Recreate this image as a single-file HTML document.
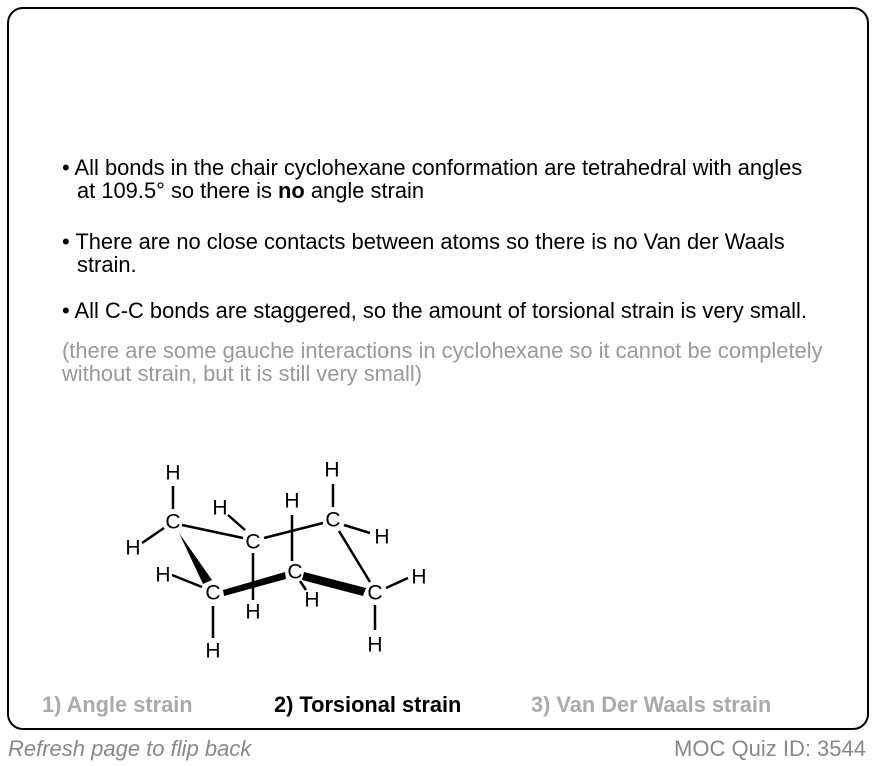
<!DOCTYPE html>
<html><head><style>
body{margin:0;width:878px;height:766px;background:#fff;font-family:"Liberation Sans",Arial,sans-serif;position:relative;overflow:hidden}
.card{position:absolute;left:7px;top:7px;width:862px;height:723px;border:2px solid #000;border-radius:16px;box-sizing:border-box}
.t{position:absolute;font-size:21.9px;color:#000;white-space:nowrap;line-height:23px}
.g{color:#999}
.b{position:absolute;font-size:21.8px;font-weight:bold;white-space:nowrap}
.f{position:absolute;font-size:22px;color:#888;white-space:nowrap}
</style></head><body>
<div class="card"></div>
<div class="t" style="left:62px;top:156px">• All bonds in the chair cyclohexane conformation are tetrahedral with angles</div>
<div class="t" style="left:77px;top:179px">at 109.5° so there is <b>no</b> angle strain</div>
<div class="t" style="left:62px;top:230px">• There are no close contacts between atoms so there is no Van der Waals</div>
<div class="t" style="left:77px;top:253px">strain.</div>
<div class="t" style="left:62px;top:299px">• All C-C bonds are staggered, so the amount of torsional strain is very small.</div>
<div class="t g" style="left:62px;top:339px">(there are some gauche interactions in cyclohexane so it cannot be completely</div>
<div class="t g" style="left:62px;top:362px">without strain, but it is still very small)</div>
<svg style="position:absolute;left:0;top:0" width="878" height="766">
<g stroke="#000" stroke-width="2.5" fill="none">
<line x1="182" y1="525" x2="243" y2="538"/>
<line x1="264" y1="538" x2="323" y2="523"/>
<line x1="339" y1="531" x2="370" y2="582"/>
<line x1="173" y1="486" x2="173" y2="509"/>
<line x1="164" y1="528" x2="142" y2="543"/>
<line x1="228" y1="515" x2="245" y2="530"/>
<line x1="253" y1="553" x2="253" y2="600"/>
<line x1="292" y1="515" x2="292" y2="561"/>
<line x1="300" y1="581" x2="306" y2="590"/>
<line x1="333" y1="484" x2="333" y2="507"/>
<line x1="344" y1="525" x2="370" y2="533"/>
<line x1="386" y1="588" x2="408" y2="578"/>
<line x1="375" y1="605" x2="375" y2="630"/>
<line x1="172" y1="575" x2="202" y2="587"/>
<line x1="213" y1="606" x2="213" y2="638"/>
</g>
<polygon points="179,533 203,584 212,580" fill="#000"/>
<polygon points="223,590 285,572 286,579 224,596" fill="#000"/>
<polygon points="304,572 366,588 363,596 302,580" fill="#000"/>
<g font-size="21" font-family="Liberation Sans,Arial,sans-serif" text-anchor="middle" dominant-baseline="central">
<text x="173" y="522">C</text><text x="253" y="542">C</text><text x="295" y="572">C</text>
<text x="333" y="520">C</text><text x="375" y="593">C</text><text x="213" y="593">C</text>
<text x="173" y="473">H</text><text x="133" y="548">H</text><text x="220" y="508">H</text>
<text x="253" y="612">H</text><text x="292" y="501">H</text><text x="312" y="600">H</text>
<text x="332" y="470">H</text><text x="382" y="537">H</text><text x="419" y="577">H</text>
<text x="375" y="645">H</text><text x="163" y="575">H</text><text x="213" y="651">H</text>
</g>
</svg>
<div class="b" style="left:42px;top:692px;color:#aaa">1) Angle strain</div>
<div class="b" style="left:274px;top:692px;color:#000">2) Torsional strain</div>
<div class="b" style="left:531px;top:692px;color:#aaa">3) Van Der Waals strain</div>
<div class="f" style="left:8px;top:736px;font-style:italic">Refresh page to flip back</div>
<div class="f" style="right:12px;top:736px">MOC Quiz ID: 3544</div>
</body></html>
